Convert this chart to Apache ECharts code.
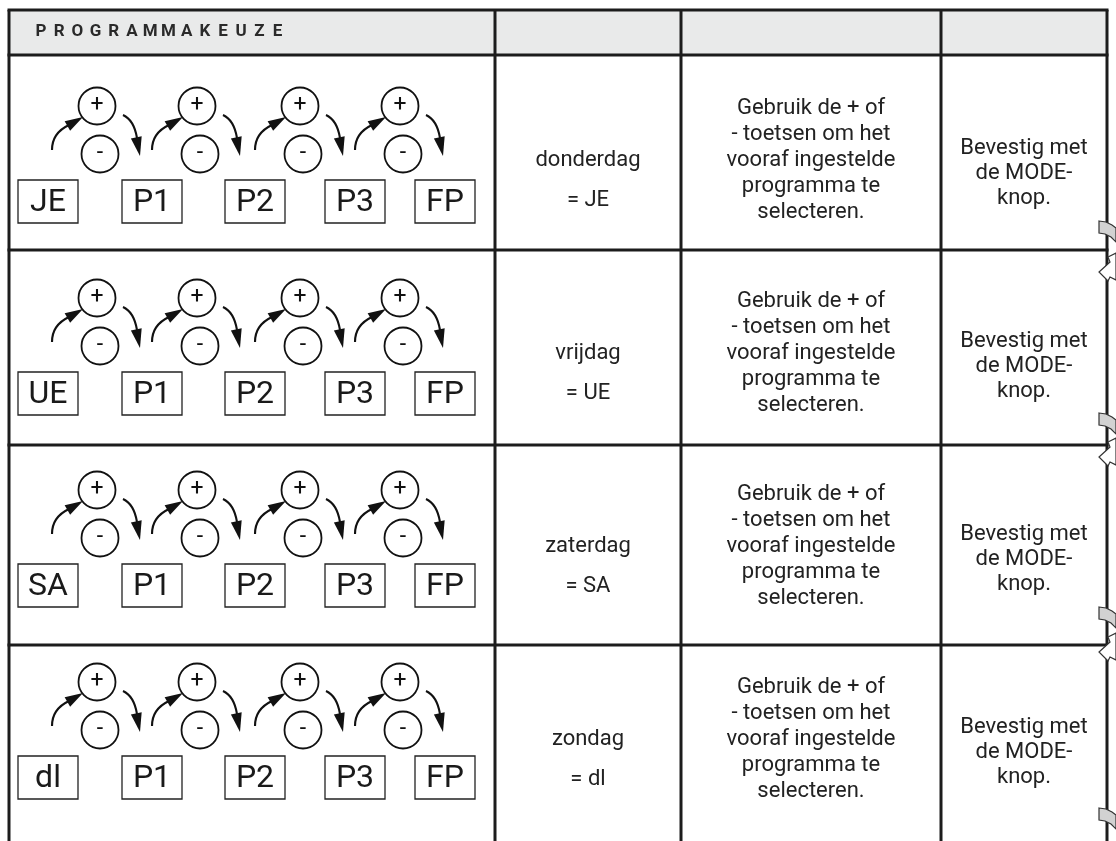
<!DOCTYPE html>
<html><head><meta charset="utf-8">
<script src="https://cdn.jsdelivr.net/npm/echarts@6/dist/echarts.min.js"></script>
<style>html,body{margin:0;padding:0;background:#fff}#c{width:1116px;height:841px}</style>
</head><body><div id="c"></div>
<script>
// ---- data ----
const headerTitle = 'PROGRAMMAKEUZE';
const days = ['donderdag', 'vrijdag', 'zaterdag', 'zondag'];
const dayCodes = ['JE', 'UE', 'SA', 'dl'];
const programs = ['P1', 'P2', 'P3', 'FP'];
const stepSigns = ['+', '-'];
const instructionLines = ['Gebruik de + of', '- toetsen om het', 'vooraf ingestelde', 'programma te', 'selecteren.'];
const confirmLines = ['Bevestig met', 'de MODE-', 'knop.'];

// ---- layout ----
const FONT = 'Roboto, "DejaVu Sans", sans-serif';
const INK = '#1c1c1c';
const colX = [9, 495, 681, 941, 1107];
const lineY = [10, 55, 250, 445, 645];
const bottomY = 841;
const rowPitch = 192;
const boxLeft = [18, 122, 225, 325, 415];
const plusX = [97, 197, 300, 400];
const bandTop = [221, 413, 607, 808];
const hookTip = [272, 457, 652];

const chart = echarts.init(document.getElementById('c'), null, {renderer: 'canvas'});

function headRing(p, tip, dir, len, hw) {
  const l = Math.hypot(dir[0], dir[1]);
  const d = [dir[0] / l, dir[1] / l];
  const n = [-d[1], d[0]];
  const b = [tip[0] - d[0] * len, tip[1] - d[1] * len];
  return [p(tip), p([b[0] + n[0] * hw, b[1] + n[1] * hw]), p([b[0] - n[0] * hw, b[1] - n[1] * hw])];
}

function renderTable(params, api) {
  const p = (x, y) => api.coord([x, y]);
  const ch = [];
  const tl = p(colX[0], lineY[0]), br = p(colX[4], lineY[1]);
  ch.push({type: 'rect', shape: {x: tl[0], y: tl[1], width: br[0] - tl[0], height: br[1] - tl[1]}, style: {fill: '#e9eaea'}});
  lineY.forEach(y => {
    const a = p(colX[0] - 1.5, y), b = p(colX[4] + 1.5, y);
    ch.push({type: 'line', shape: {x1: a[0], y1: a[1], x2: b[0], y2: b[1]}, style: {stroke: INK, lineWidth: 3}});
  });
  colX.forEach(x => {
    const a = p(x, lineY[0]), b = p(x, bottomY);
    ch.push({type: 'line', shape: {x1: a[0], y1: a[1], x2: b[0], y2: b[1]}, style: {stroke: INK, lineWidth: 3}});
  });
  return {type: 'group', children: ch};
}

function renderHeader(params, api) {
  const i = api.value(0);
  const c = api.coord([41 + 18.2 * i, 32]);
  return {type: 'text', style: {text: headerTitle[i], x: c[0], y: c[1], fill: '#2a2a2a', fontSize: 17, fontWeight: 'bold', fontFamily: FONT, align: 'center', verticalAlign: 'middle'}};
}

function renderRow(params, api) {
  const i = api.value(0);
  const p = (x, y) => api.coord([x, y]);
  const ch = [];
  const plusY = 106 + rowPitch * i;
  const minusY = plusY + 48;
  const boxTop = 180 + rowPitch * i;
  const stroke = {stroke: '#111', lineWidth: 2.1, fill: null};
  // boxes
  const labels = [dayCodes[i]].concat(programs);
  labels.forEach((lab, k) => {
    const a = p(boxLeft[k], boxTop), b = p(boxLeft[k] + 60, boxTop + 43);
    ch.push({type: 'rect', shape: {x: a[0], y: a[1], width: b[0] - a[0], height: b[1] - a[1]}, style: {stroke: '#222', lineWidth: 1.3, fill: '#fff'}});
    const c = p(boxLeft[k] + 30, boxTop + 23);
    ch.push({type: 'text', style: {text: lab, x: c[0], y: c[1], fill: '#1a1a1a', fontSize: 32, fontFamily: FONT, align: 'center', verticalAlign: 'middle'}});
  });
  // circles and arrows
  plusX.forEach(cx => {
    const cp = p(cx, plusY), cm = p(cx + 3, minusY);
    ch.push({type: 'circle', shape: {cx: cp[0], cy: cp[1], r: 18.5}, style: {stroke: '#111', lineWidth: 1.8, fill: '#fff'}});
    ch.push({type: 'circle', shape: {cx: cm[0], cy: cm[1], r: 18.5}, style: {stroke: '#111', lineWidth: 1.8, fill: '#fff'}});
    ch.push({type: 'text', style: {text: stepSigns[0], x: cp[0], y: cp[1] - 1, fill: '#111', fontSize: 23, fontFamily: FONT, align: 'center', verticalAlign: 'middle'}});
    ch.push({type: 'text', style: {text: stepSigns[1], x: cm[0], y: cm[1] - 1, fill: '#111', fontSize: 23, fontFamily: FONT, align: 'center', verticalAlign: 'middle'}});
    // left rising arrow
    let s = p(cx - 45, plusY + 44), c1 = p(cx - 45, plusY + 27), e = p(cx - 28, plusY + 19);
    ch.push({type: 'bezierCurve', shape: {x1: s[0], y1: s[1], cpx1: c1[0], cpy1: c1[1], x2: e[0], y2: e[1]}, style: stroke});
    ch.push({type: 'polygon', shape: {points: headRing(p2 => api.coord(p2), [cx - 14, plusY + 11], [0.87, -0.5], 18, 5.5)}, style: {fill: '#111'}});
    // right falling arrow
    s = p(cx + 26, plusY + 9); c1 = p(cx + 37, plusY + 14); e = p(cx + 40, plusY + 32);
    ch.push({type: 'bezierCurve', shape: {x1: s[0], y1: s[1], cpx1: c1[0], cpy1: c1[1], x2: e[0], y2: e[1]}, style: stroke});
    ch.push({type: 'polygon', shape: {points: headRing(p2 => api.coord(p2), [cx + 43, plusY + 50], [0.2, 1], 19, 5.5)}, style: {fill: '#111'}});
  });
  // text columns
  const t = (txt, x, y) => {
    const c = p(x, y);
    return {type: 'text', style: {text: txt, x: c[0], y: c[1], fill: '#222', fontSize: 22, fontFamily: FONT, align: 'center', verticalAlign: 'middle'}};
  };
  const base = 160 + 193 * i;
  ch.push(t(days[i], 588, base));
  ch.push(t('= ' + dayCodes[i], 588, base + 40));
  instructionLines.forEach((ln, k) => ch.push(t(ln, 811, base - 52 + 26 * k)));
  confirmLines.forEach((ln, k) => ch.push(t(ln, 1024, base - 12 + 25 * k)));
  return {type: 'group', children: ch};
}

function renderSide(params, api) {
  const i = api.value(0);
  const p = (x, y) => api.coord([x, y]);
  const ch = [];
  const y0 = bandTop[i];
  ch.push({type: 'polygon', shape: {points: [p(1099, y0), p(1106, y0 + 1), p(1112, y0 + 4), p(1116, y0 + 7), p(1116, y0 + 21), p(1111, y0 + 16), p(1105, y0 + 13), p(1099, y0 + 12)]},
    style: {fill: '#d2d2d2', stroke: '#333', lineWidth: 1.2}});
  if (i < hookTip.length) {
    const t = hookTip[i];
    ch.push({type: 'polygon', shape: {points: [p(1116, t - 19), p(1108, t - 15), p(1110, t - 10), p(1099, t), p(1108, t + 9), p(1110, t + 5), p(1116, t + 8)]},
      style: {fill: '#fff', stroke: '#333', lineWidth: 1.2}});
  }
  return {type: 'group', children: ch};
}

chart.setOption({
  animation: false,
  backgroundColor: '#fff',
  grid: {left: 0, right: 0, top: 0, bottom: 0},
  xAxis: {type: 'value', min: 0, max: 1116, show: false},
  yAxis: {type: 'value', min: 0, max: 841, inverse: true, show: false},
  series: [
    {type: 'custom', renderItem: renderTable, data: [[0]], clip: false, silent: true, z: 1},
    {type: 'custom', renderItem: renderHeader, data: headerTitle.split('').map((c, i) => [i]), clip: false, silent: true, z: 2},
    {type: 'custom', renderItem: renderRow, data: days.map((d, i) => [i]), clip: false, silent: true, z: 3},
    {type: 'custom', renderItem: renderSide, data: bandTop.map((d, i) => [i]), clip: false, silent: true, z: 4}
  ]
});
</script></body></html>
